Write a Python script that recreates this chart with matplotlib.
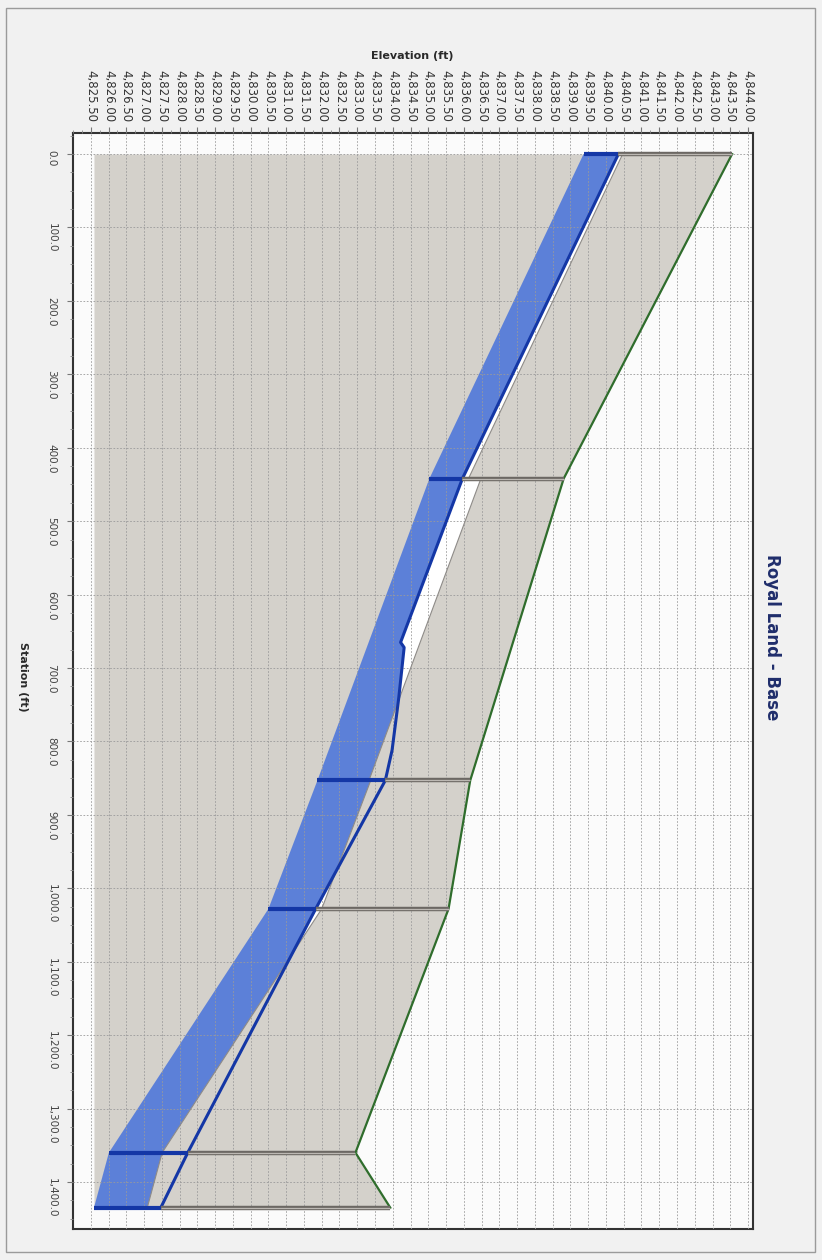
import numpy as np
import matplotlib.pyplot as plt
from matplotlib.ticker import FixedLocator, MultipleLocator, FuncFormatter

# structures (manholes) along the run
struct_sta = np.array([0.0, 442.0, 853.0, 1028.0, 1360.0, 1435.0])
ground_elev = np.array([4843.55, 4838.81, 4836.18, 4835.57, 4832.95, 4833.93])
struct_invert = np.array([4839.37, 4835.03, 4831.88, 4830.50, 4826.01, 4825.59])
struct_hgl = np.array([4840.35, 4835.96, 4833.79, 4831.83, 4828.23, 4827.47])

# pipe rise (ft) for each reach between structures
pipe_rise = [1.10, 1.45, 1.50, 1.50, 1.50]

# hydraulic grade line
hgl_sta = np.array([0.0, 442.0, 665.0, 672.0, 740.0, 812.0, 853.0, 1028.0, 1360.0, 1435.0])
hgl_elev = np.array([4840.35, 4835.96, 4834.22, 4834.32, 4834.17, 4833.98, 4833.79,
                     4831.83, 4828.23, 4827.47])

elev_ticks = np.arange(4825.5, 4844.01, 0.5)
sta_ticks = np.arange(0, 1401, 100)

GRAY = "#d4d1cb"
BLUE = "#5c80d8"
DARK_BLUE = "#1437a6"
GREEN = "#2f6d2c"

fig = plt.figure(figsize=(8.22, 12.6), dpi=100, facecolor="#f1f1f1")
ax = fig.add_axes([73 / 822, 1 - 1229 / 1260, (752.7 - 73) / 822, (1229 - 133) / 1260])
ax.set_facecolor("#fbfbfb")

# soil between the lowest invert and the ground
ax.fill_betweenx(struct_sta, struct_invert.min(), ground_elev, color=GRAY, lw=0, zorder=1)

for i, rise in enumerate(pipe_rise):
    s = struct_sta[i:i + 2]
    inv = struct_invert[i:i + 2]
    crown = inv + rise
    grd = ground_elev[i:i + 2]
    # pipe interior
    ax.fill_betweenx(s, inv, crown, color="white", lw=0, zorder=1.2)
    # water from invert up to HGL
    m = (hgl_sta >= s[0]) & (hgl_sta <= s[1])
    hs, he = hgl_sta[m], hgl_elev[m]
    ax.fill(np.r_[inv, he[::-1]], np.r_[s, hs[::-1]], color=BLUE, lw=0, zorder=1.3)
    # soil above the crown hides HGL when pipe runs full
    ax.fill(np.r_[crown, grd[::-1]], np.r_[s, s[::-1]], color=GRAY, lw=0, zorder=1.4)
    ax.plot(crown, s, color="#8e8b88", lw=0.8, zorder=3)

ax.plot(hgl_elev, hgl_sta, color=DARK_BLUE, lw=2.2, zorder=4)
ax.plot(ground_elev, struct_sta, color=GREEN, lw=1.6, zorder=4)

# structures
for s, inv, h, g in zip(struct_sta, struct_invert, struct_hgl, ground_elev):
    ax.plot([inv, h], [s, s], color=DARK_BLUE, lw=3, solid_capstyle="butt", zorder=5)
    ax.plot([h, g], [s, s], color="#6c6864", lw=3.2, solid_capstyle="butt", zorder=5)
    ax.plot([h, g], [s, s], color="#bcb8b3", lw=0.9, solid_capstyle="butt", zorder=5.1)

ax.set_xlim(4825.0, 4844.13)
ax.set_ylim(1464, -28.7)
ax.xaxis.tick_top()
ax.xaxis.set_major_locator(FixedLocator(elev_ticks))
ax.xaxis.set_minor_locator(MultipleLocator(0.25))
ax.yaxis.set_major_locator(FixedLocator(sta_ticks))
ax.yaxis.set_minor_locator(MultipleLocator(25))
ax.xaxis.set_major_formatter(FuncFormatter(lambda v, p: f"{v:,.2f}"))
ax.yaxis.set_major_formatter(FuncFormatter(lambda v, p: f"{v:,.1f}"))

ax.tick_params(axis="x", which="major", labelrotation=-90, labelsize=8.5,
               length=4, pad=4, color="#777777", labelcolor="#333333")
ax.tick_params(axis="y", which="major", labelrotation=-90, labelsize=7.5,
               length=4, pad=8, color="#777777", labelcolor="#444444")
ax.tick_params(which="minor", length=2, color="#888888")

ax.set_axisbelow(False)
ax.grid(True, which="major", color="#9a9a9a", lw=0.6, ls=(0, (2, 2)))
for sp in ax.spines.values():
    sp.set_linewidth(1.5)
    sp.set_color("#333333")

fig.text(412 / 822, 1 - 56 / 1260, "Elevation (ft)", ha="center", va="center",
         fontsize=8, fontweight="bold", color="#2a2a2a")
fig.text(23 / 822, 1 - 677 / 1260, "Station (ft)", rotation=-90, ha="center",
         va="center", fontsize=8, fontweight="bold", color="#2a2a2a")
fig.text(772 / 822, 1 - 637 / 1260, "Royal Land - Base", rotation=-90, ha="center",
         va="center", fontsize=12, fontweight="bold", color="#1f2d6b")

fig.add_artist(plt.Rectangle((6 / 822, 8 / 1260), 809 / 822, 1244 / 1260,
                             transform=fig.transFigure, fill=False,
                             edgecolor="#9a9a9a", lw=1))

fig.savefig("out.png", dpi=100, facecolor=fig.get_facecolor())
